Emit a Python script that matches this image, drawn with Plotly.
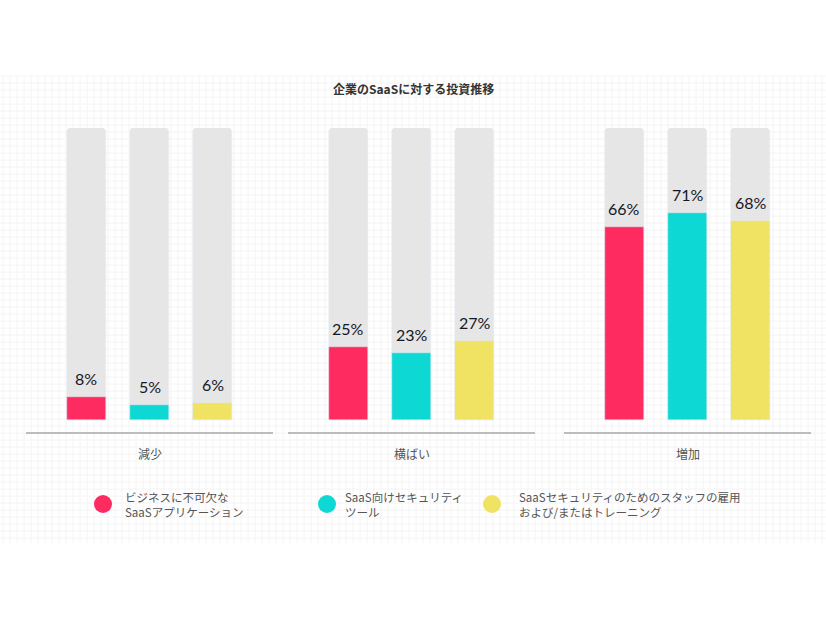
import plotly.graph_objects as go

title = "企業のSaaSに対する投資推移"
groups = ["減少", "横ばい", "増加"]
series = ["ビジネスに不可欠な<br>SaaSアプリケーション", "SaaS向けセキュリティ<br>ツール", "SaaSセキュリティのためのスタッフの雇用<br>および/またはトレーニング"]
values = {
    "減少": [8, 5, 6],
    "横ばい": [25, 23, 27],
    "増加": [66, 71, 68],
}
full = [100, 100, 100]
colors = ["#fe2b61", "#0ed8d4", "#f0e262"]
gray = "#e6e6e6"

W, H = 826, 620
fig = go.Figure()

doms = [(26, 273), (288, 535), (564, 811)]
ydom = [(H - 432) / H, (H - 128) / H]
idx = [0, 1, 2]

for gi, g in enumerate(groups):
    xa = "x" if gi == 0 else f"x{gi+1}"
    ya = "y" if gi == 0 else f"y{gi+1}"
    fig.add_trace(go.Bar(x=idx, y=full, width=0.62, marker=dict(color=gray, cornerradius=4),
                         xaxis=xa, yaxis=ya, showlegend=False, hoverinfo="skip"))
    fig.add_trace(go.Bar(x=idx, y=values[g], width=0.62,
                         marker=dict(color=colors, cornerradius=4),
                         xaxis=xa, yaxis=ya, showlegend=False))
    for i, v in enumerate(values[g]):
        fig.add_annotation(x=i, y=v, xref=xa, yref=ya, text=f"{v}%", showarrow=False,
                           yanchor="bottom", yshift=7,
                           font=dict(family="Lato", size=16, color="#141826"))
    fig.add_annotation(x=0.5, y=0, xref=f"{xa} domain", yref=f"{ya} domain", text=g,
                       showarrow=False, yanchor="top", yshift=-11,
                       font=dict(family="Noto Sans CJK JP", size=12, color="#555555"))
    d = doms[gi]
    xk = "xaxis" if gi == 0 else f"xaxis{gi+1}"
    yk = "yaxis" if gi == 0 else f"yaxis{gi+1}"
    fig.update_layout(**{
        xk: dict(domain=[d[0] / W, d[1] / W], range=[-0.96, 2.96], showgrid=False, zeroline=False,
                 showticklabels=False, ticks="", showline=True, linecolor="#bdbdbd", linewidth=2,
                 anchor=ya, fixedrange=True),
        yk: dict(domain=ydom, range=[-4.1, 100], showgrid=False, zeroline=False,
                 showticklabels=False, showline=False, anchor=xa, fixedrange=True),
    })

# background grid
shapes = []
top, bot = 76, 543
step = 7
x = 3
while x < W:
    shapes.append(dict(type="line", xref="paper", yref="paper", x0=x / W, x1=x / W,
                       y0=(H - top) / H, y1=(H - bot) / H, line=dict(color="#f4f4f4", width=1), layer="below"))
    x += step
y = top
while y <= bot:
    shapes.append(dict(type="line", xref="paper", yref="paper", x0=0, x1=1,
                       y0=(H - y) / H, y1=(H - y) / H, line=dict(color="#f4f4f4", width=1), layer="below"))
    y += step

# legend
leg_cx = [103, 327, 492]
leg_tx = [123, 343, 517]
leg_cy = 504
r = 9
for i, name in enumerate(series):
    shapes.append(dict(type="circle", xref="paper", yref="paper",
                       x0=(leg_cx[i] - r) / W, x1=(leg_cx[i] + r) / W,
                       y0=(H - leg_cy - r) / H, y1=(H - leg_cy + r) / H,
                       fillcolor=colors[i], line=dict(width=0)))
    fig.add_annotation(x=leg_tx[i] / W, y=(H - leg_cy) / H, xref="paper", yref="paper",
                       text=name, showarrow=False, xanchor="left", yanchor="middle", align="left",
                       font=dict(family="Noto Sans CJK JP", size=11.5, color="#555555"))

fig.add_annotation(x=0.5, y=(H - 88) / H, xref="paper", yref="paper", text=f"<b>{title}</b>",
                   showarrow=False, yanchor="middle",
                   font=dict(family="Noto Sans CJK JP", size=12, color="#333333"))

fig.update_layout(width=W, height=H, margin=dict(l=0, r=0, t=0, b=0),
                  paper_bgcolor="white", plot_bgcolor="rgba(0,0,0,0)",
                  barmode="overlay", bargap=0, shapes=shapes, showlegend=False)

fig.write_html("out.html")
